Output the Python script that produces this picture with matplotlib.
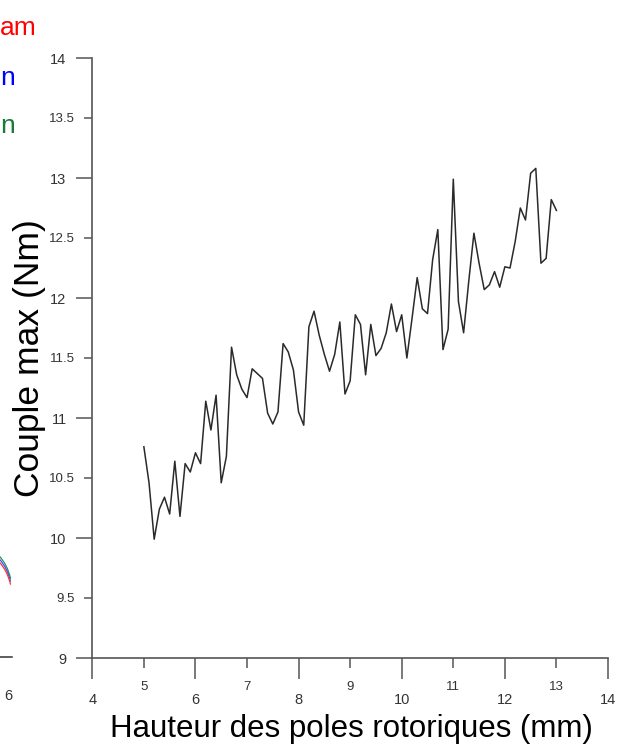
import numpy as np
import matplotlib.pyplot as plt
from matplotlib.patches import Arc
from matplotlib.lines import Line2D

# hauteur des poles (mm) et couple max (Nm)
hauteur = np.round(np.arange(5.0, 13.01, 0.1), 1)
couple = [10.76, 10.46, 9.99, 10.24, 10.34, 10.20, 10.64, 10.18, 10.62, 10.55,
          10.71, 10.62, 11.14, 10.90, 11.19, 10.46, 10.68, 11.59, 11.36, 11.24,
          11.17, 11.41, 11.37, 11.33, 11.04, 10.95, 11.05, 11.62, 11.55, 11.40,
          11.05, 10.94, 11.76, 11.89, 11.69, 11.53, 11.39, 11.53, 11.80, 11.20,
          11.31, 11.86, 11.78, 11.36, 11.78, 11.52, 11.58, 11.71, 11.95, 11.72,
          11.86, 11.50, 11.83, 12.17, 11.91, 11.87, 12.32, 12.57, 11.57, 11.74,
          12.99, 11.97, 11.71, 12.14, 12.54, 12.29, 12.07, 12.11, 12.22, 12.09,
          12.26, 12.25, 12.47, 12.75, 12.65, 13.04, 13.08, 12.29, 12.33, 12.82,
          12.73]

x_major = [4, 6, 8, 10, 12, 14]
x_minor = [5, 7, 9, 11, 13]
y_major = [9, 10, 11, 12, 13, 14]
y_minor = [9.5, 10.5, 11.5, 12.5, 13.5]

W, H = 621, 746
plt.rcParams['font.family'] = ['Liberation Sans', 'DejaVu Sans']
fig = plt.figure(figsize=(W / 100, H / 100), dpi=100)
ax = fig.add_axes([92.3 / W, (H - 658) / H, 515.7 / W, 600 / H])

ax.plot(hauteur, couple, color='#2a2a2a', lw=1.1)

ax.set_xlim(4, 14)
ax.set_ylim(9, 14)
for s in ['top', 'right']:
    ax.spines[s].set_visible(False)
for s in ['left', 'bottom']:
    ax.spines[s].set_color('#555555')
    ax.spines[s].set_linewidth(1.2)

ax.set_xticks(x_major)
ax.set_xticklabels([str(v) for v in x_major])
ax.set_xticks(x_minor, minor=True)
ax.set_xticklabels([str(v) for v in x_minor], minor=True)
ax.set_yticks(y_major)
ax.set_yticklabels([str(v) for v in y_major])
ax.set_yticks(y_minor, minor=True)
ax.set_yticklabels([str(v) for v in y_minor], minor=True)

ax.tick_params(axis='x', which='major', length=15, width=1.1, pad=10,
               labelsize=10.5, color='#555555', labelcolor='#333333')
ax.tick_params(axis='x', which='minor', length=7.2, width=1.1, pad=9.5,
               labelsize=9.5, color='#555555', labelcolor='#333333')
ax.tick_params(axis='y', which='major', length=11.5, width=1.1, pad=7,
               labelsize=10.5, color='#555555', labelcolor='#333333')
ax.tick_params(axis='y', which='minor', length=5.8, width=1.1, pad=7,
               labelsize=9.5, color='#555555', labelcolor='#333333')

ax.set_xlabel('Hauteur des poles rotoriques (mm)', fontsize=22.5)
ax.xaxis.set_label_coords(0.503, -0.094)
ax.set_ylabel('Couple max (Nm)', fontsize=25.5)
ax.yaxis.set_label_coords(-0.09, 0.5)


# fragments of the neighbouring figure at the left edge
def fx(px):
    return px / W


def fy(py):
    return (H - py) / H


fig.text(fx(0), fy(35), 'am', color='red', fontsize=19, ha='left', va='baseline')
fig.text(fx(0), fy(85), 'n', color='blue', fontsize=19, ha='left', va='baseline')
fig.text(fx(0), fy(133), 'n', color='#1a7a3a', fontsize=19, ha='left', va='baseline')
fig.text(fx(8), fy(700), '6', color='#333333', fontsize=10.5, ha='center', va='baseline')
fig.add_artist(Line2D([fx(0), fx(12)], [fy(657), fy(657)], color='#333333', lw=1.1))
for dy, c in [(0, '#2e8b57'), (3, '#3355ff'), (6, '#ff3333')]:
    fig.add_artist(Arc((fx(-20), fy(592 + dy)), 2 * 32 / W, 2 * 45 / H,
                       theta1=20, theta2=90, color=c, lw=0.9,
                       transform=fig.transFigure))

fig.savefig('out.png', dpi=100)
